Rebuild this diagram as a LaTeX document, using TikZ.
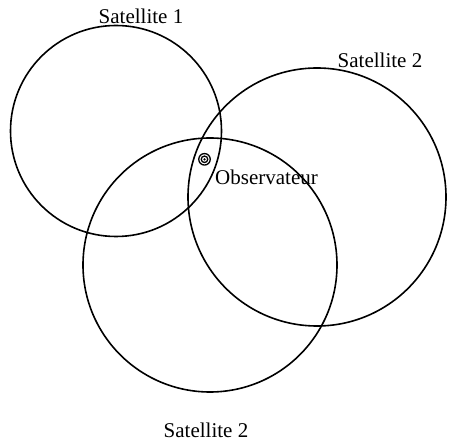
\documentclass[tikz,border=0pt]{standalone}
\usepackage{fontspec}
\setmainfont{Liberation Serif}
\begin{document}
\begin{tikzpicture}[x=1pt,y=-1pt,
  orbit/.style={draw=black,line width=1.6pt},
  ring/.style={draw=black,line width=1.3pt,circle,inner sep=0pt},
  lbl/.style={font=\fontsize{21}{25}\selectfont,inner sep=0pt}]
\useasboundingbox (0,0) rectangle (459,446);
\node[orbit,circle,minimum size=211pt,inner sep=0pt] (c1) at (116,131) {};
\node[orbit,circle,minimum size=258pt,inner sep=0pt] (c2) at (317,197) {};
\node[orbit,circle,minimum size=254pt,inner sep=0pt] (c3) at (210,265) {};
\node[ring,minimum size=11.5pt] (obs) at (204.5,159.3) {};
\node[ring,minimum size=6.5pt] (obsin) at (obs) {};
\node[fill=black,circle,minimum size=2.5pt,inner sep=0pt] (obsdot) at (obs) {};
\node[lbl,anchor=base] (s1) at (141,24) {Satellite 1};
\node[lbl,anchor=base] (s2) at (380,68) {Satellite 2};
\node[lbl,anchor=base] (s3) at (206,438) {Satellite 2};
\node[lbl,anchor=base west] (ob) at (215,185) {Observateur};
\end{tikzpicture}
\end{document}
